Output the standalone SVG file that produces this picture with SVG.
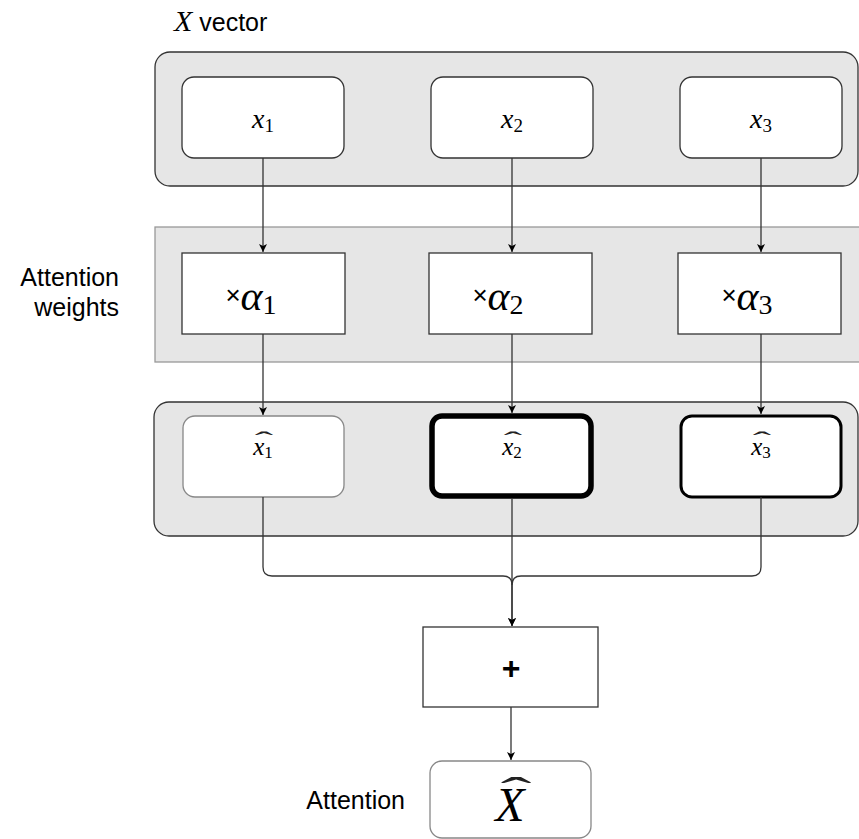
<svg xmlns="http://www.w3.org/2000/svg" width="859" height="839" viewBox="0 0 859 839">
<defs>
<marker id="arr" markerWidth="10" markerHeight="10" refX="9" refY="5" orient="auto" markerUnits="userSpaceOnUse">
<path d="M1,1 L9,5 L1,9 L3,5 Z" fill="#000"/>
</marker>
<style>
.cont{fill:#e6e6e6;stroke:#333;stroke-width:1.3}
.band{fill:#e6e6e6;stroke:#999;stroke-width:1.3}
.box{fill:#fff;stroke:#333;stroke-width:1.3}
.lbl{font-family:"Liberation Sans",Arial,sans-serif;font-size:25px;fill:#000}
.m{font-family:"Liberation Serif","Times New Roman",serif;font-style:italic;fill:#000}
.sub{font-style:normal}
.hat{font-family:"Liberation Serif","Times New Roman",serif;fill:#222}
.c{fill:none;stroke:#333;stroke-width:1.3}
</style>
</defs>
<g id="x-vector-label">
<text x="174" y="31" class="lbl"><tspan class="m" style="font-size:30px">X</tspan> vector</text>
</g>
<g id="x-container"><rect x="155" y="52" width="703" height="134" rx="15" class="cont"/></g>
<g id="weights-band"><rect x="155" y="227" width="705" height="135" class="band"/></g>
<g id="weights-label">
<text x="119" y="286" class="lbl" text-anchor="end">Attention</text>
<text x="119" y="316" class="lbl" text-anchor="end">weights</text>
</g>
<g id="xhat-container"><rect x="154" y="402" width="704" height="134" rx="15" class="cont"/></g>
<g id="x1"><rect x="182" y="77" width="162" height="81" rx="12" class="box"/>
<text x="263" y="128" class="m" font-size="28" text-anchor="middle">x<tspan class="sub" font-size="19" dy="4">1</tspan></text></g>
<g id="x2"><rect x="431" y="77" width="162" height="81" rx="12" class="box"/>
<text x="512" y="128" class="m" font-size="28" text-anchor="middle">x<tspan class="sub" font-size="19" dy="4">2</tspan></text></g>
<g id="x3"><rect x="680" y="77" width="162" height="81" rx="12" class="box"/>
<text x="761" y="128" class="m" font-size="28" text-anchor="middle">x<tspan class="sub" font-size="19" dy="4">3</tspan></text></g>
<g id="a1"><rect x="182" y="253" width="163" height="81" class="box"/>
<text x="251" y="310" text-anchor="middle"><tspan class="lbl" style="font-size:26px" dy="-6">×</tspan><tspan class="m" font-size="42" dy="6">α</tspan><tspan class="m sub" font-size="28" dy="4">1</tspan></text></g>
<g id="a2"><rect x="429" y="253" width="163" height="81" class="box"/>
<text x="498" y="310" text-anchor="middle"><tspan class="lbl" style="font-size:26px" dy="-6">×</tspan><tspan class="m" font-size="42" dy="6">α</tspan><tspan class="m sub" font-size="28" dy="4">2</tspan></text></g>
<g id="a3"><rect x="678" y="253" width="163" height="81" class="box"/>
<text x="747" y="310" text-anchor="middle"><tspan class="lbl" style="font-size:26px" dy="-6">×</tspan><tspan class="m" font-size="42" dy="6">α</tspan><tspan class="m sub" font-size="28" dy="4">3</tspan></text></g>
<g id="xh1"><rect x="183" y="416" width="161" height="81" rx="12" fill="#fff" stroke="#888" stroke-width="1.3"/>
<text x="263" y="455" class="m" font-size="25" text-anchor="middle">x<tspan class="sub" font-size="17" dy="3">1</tspan></text>
<text transform="translate(264,448) scale(2.3,1)" class="hat" font-size="24" text-anchor="middle">ˆ</text></g>
<g id="xh2"><rect x="432" y="416" width="159" height="80" rx="10" fill="#fff" stroke="#000" stroke-width="5.5"/>
<text x="512" y="455" class="m" font-size="25" text-anchor="middle">x<tspan class="sub" font-size="17" dy="3">2</tspan></text>
<text transform="translate(513,448) scale(2.3,1)" class="hat" font-size="24" text-anchor="middle">ˆ</text></g>
<g id="xh3"><rect x="681" y="416" width="160" height="81" rx="11" fill="#fff" stroke="#000" stroke-width="3"/>
<text x="761" y="455" class="m" font-size="25" text-anchor="middle">x<tspan class="sub" font-size="17" dy="3">3</tspan></text>
<text transform="translate(762,448) scale(2.3,1)" class="hat" font-size="24" text-anchor="middle">ˆ</text></g>
<g id="plus"><rect x="423" y="627" width="175" height="80" class="box"/>
<text x="511" y="679" class="lbl" style="font-size:32px;font-weight:bold" text-anchor="middle">+</text></g>
<g id="attention-label"><text x="405" y="809" class="lbl" text-anchor="end">Attention</text></g>
<g id="xhat"><rect x="430" y="761" width="161" height="77" rx="12" fill="#fff" stroke="#888" stroke-width="1.3"/>
<text x="510" y="821" class="m" font-size="48" text-anchor="middle">X</text>
<text transform="translate(516,805) scale(2.3,1)" class="hat" font-size="40" text-anchor="middle" fill="#000">ˆ</text></g>
<g id="connectors">
<path d="M263,158 V252" class="c" marker-end="url(#arr)"/>
<path d="M512,158 V252" class="c" marker-end="url(#arr)"/>
<path d="M761,158 V252" class="c" marker-end="url(#arr)"/>
<path d="M263,334 V415" class="c" marker-end="url(#arr)"/>
<path d="M512,334 V413" class="c" marker-end="url(#arr)"/>
<path d="M761,334 V414" class="c" marker-end="url(#arr)"/>
<path d="M263,497 V567 Q263,576 272,576 H503 Q512,576 512,585 V626" class="c" marker-end="url(#arr)"/>
<path d="M761,497 V567 Q761,576 752,576 H521 Q512,576 512,585" class="c"/>
<path d="M512,499 V626" class="c" marker-end="url(#arr)"/>
<path d="M511,707 V760" class="c" marker-end="url(#arr)"/>
</g>
</svg>
